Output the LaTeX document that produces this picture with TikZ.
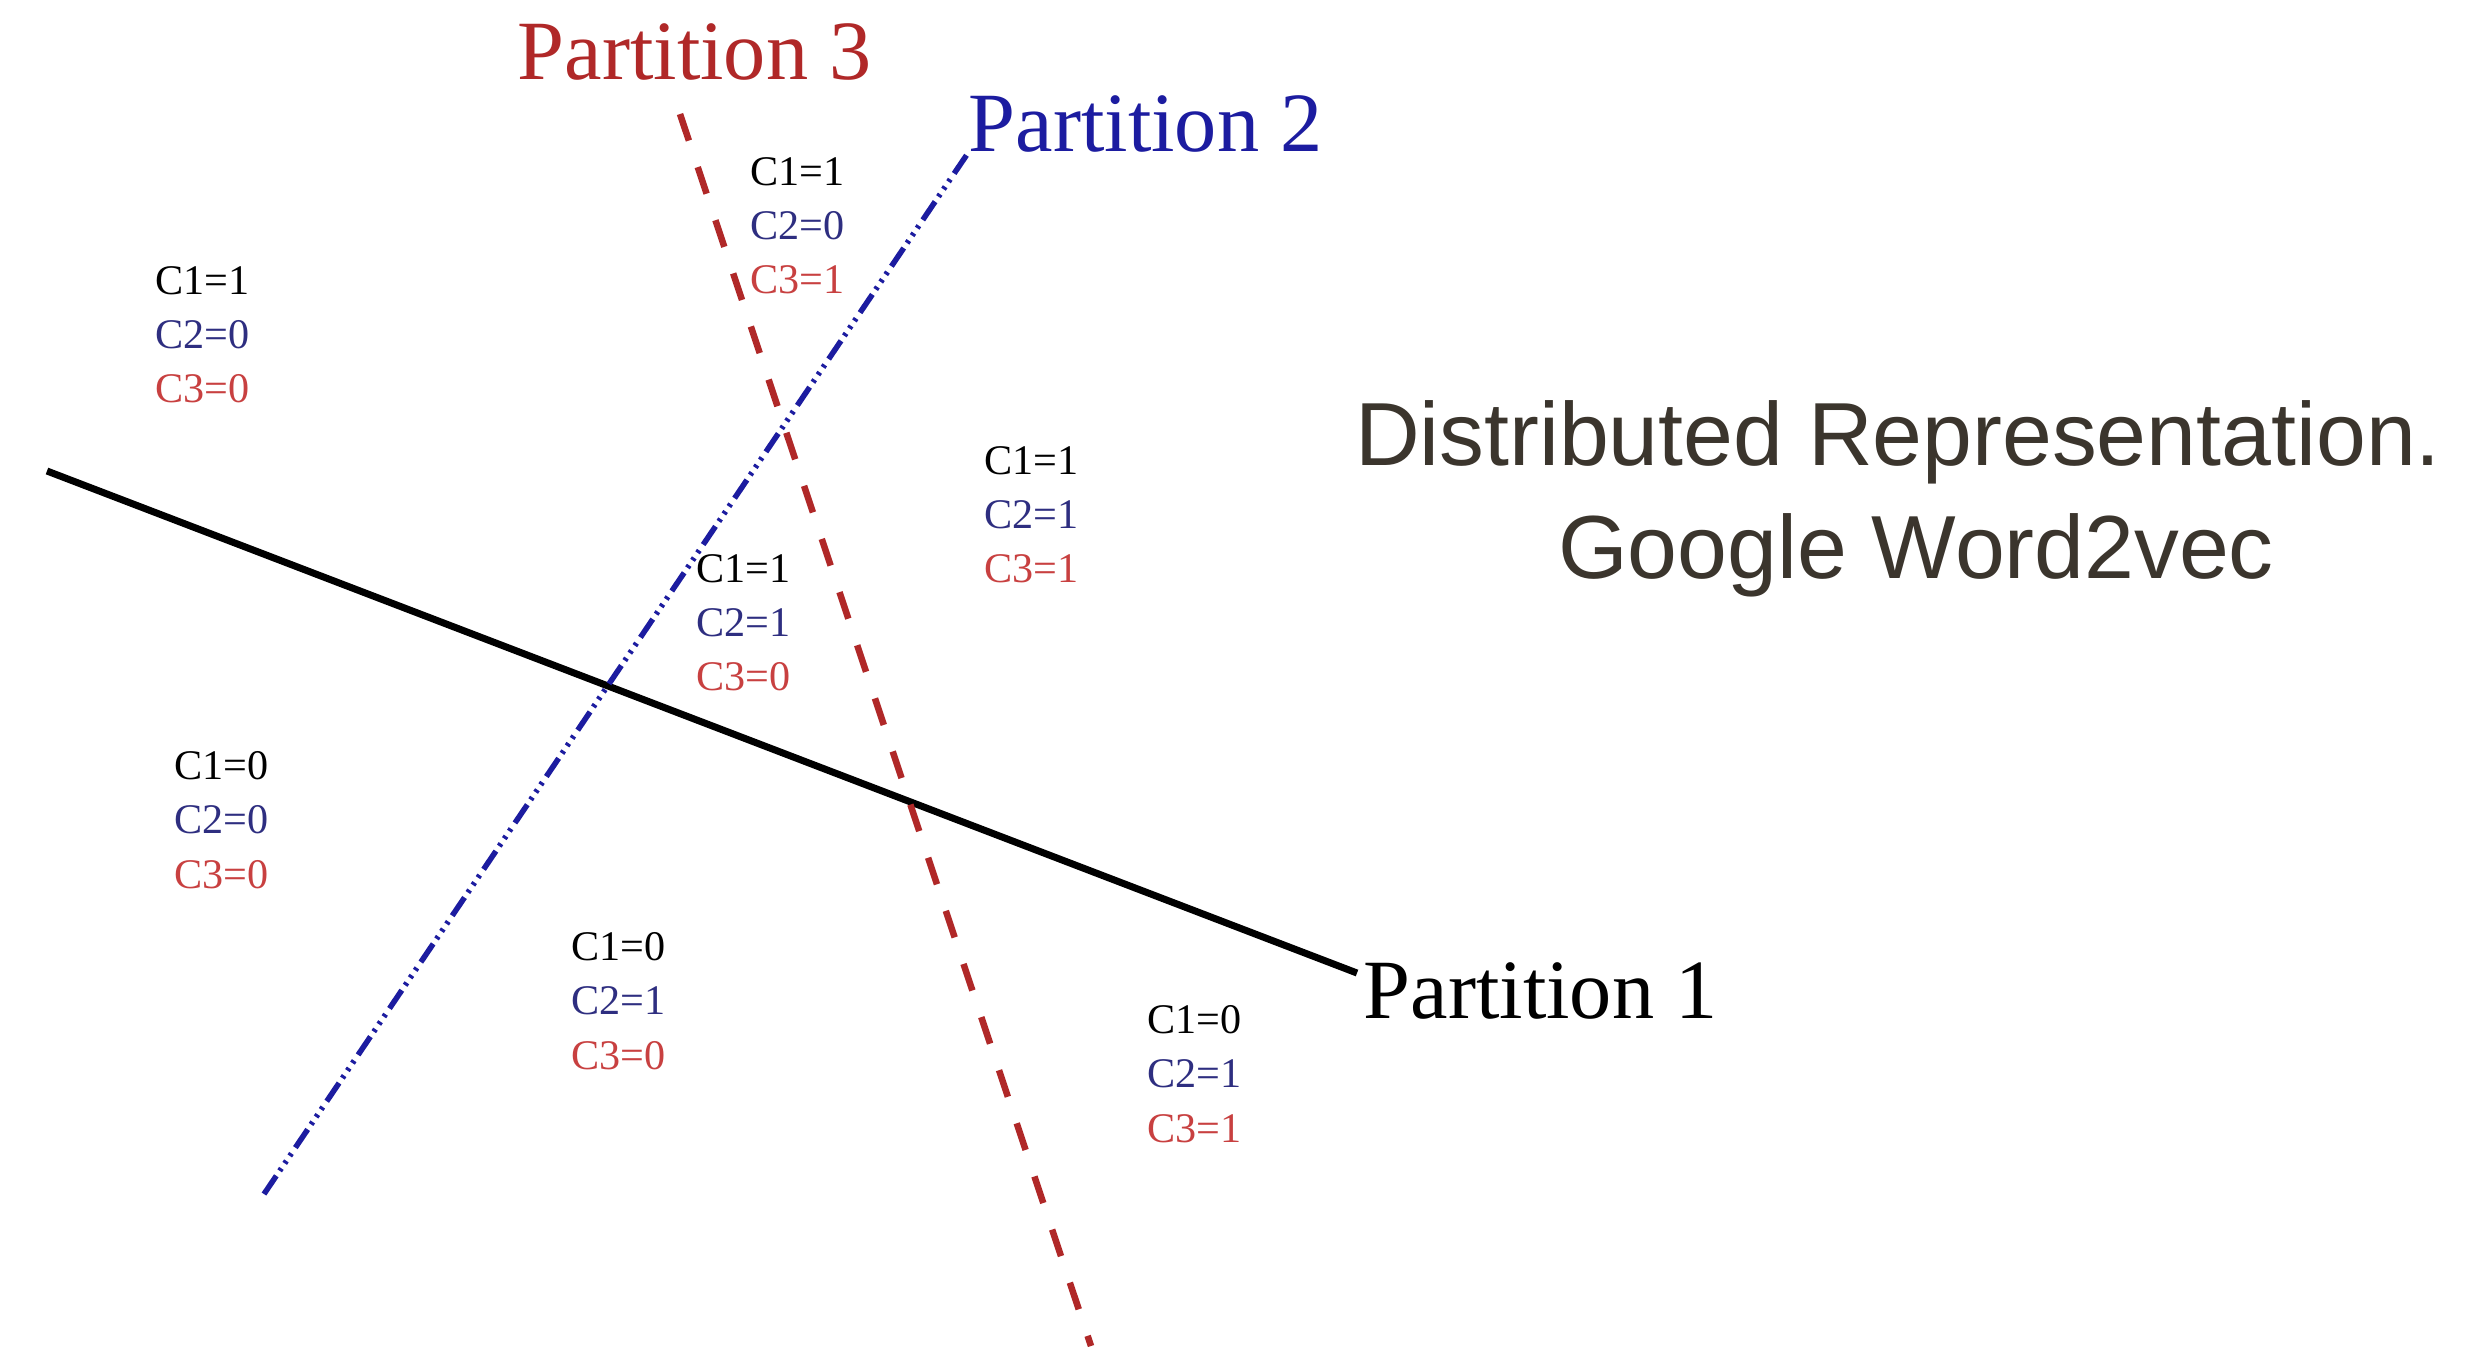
\documentclass[tikz,border=0pt]{standalone}
\usepackage{fontspec}
\setmainfont{Liberation Serif}
\newfontfamily\titlefont{Liberation Sans}
\definecolor{pred}{HTML}{B02828}
\definecolor{pblue}{HTML}{1C1CA0}
\definecolor{ltwo}{HTML}{2E2E80}
\definecolor{lthree}{HTML}{C84040}
\definecolor{ttl}{HTML}{3B352D}
\tikzset{
  px/.style={x=0.1mm,y=-0.1mm},
  lab/.style={anchor=north west,inner sep=0pt,align=left,font=\fontsize{12}{15.4}\selectfont},
  ptitle/.style={anchor=base west,inner sep=0pt,font=\fontsize{24}{28}\selectfont},
  bigt/.style={anchor=base,inner sep=0pt,text=ttl,font=\titlefont\fontsize{25.5}{30}\selectfont},
  line1/.style={draw=black,line width=0.7mm},
  line2/.style={draw=pblue,line width=0.55mm,dash pattern=on 2.2mm off 0.6mm on 0.3mm off 0.6mm on 0.3mm off 0.6mm on 0.3mm off 0.7mm},
  line3/.style={draw=pred,line width=0.65mm,dash pattern=on 2.8mm off 2.8mm}
}
\newcommand{\trip}[3]{\textcolor{black}{#1}\\\textcolor{ltwo}{#2}\\\textcolor{lthree}{#3}}
\begin{document}
\begin{tikzpicture}[px]
\useasboundingbox[fill=white] (0,0) rectangle (2480,1346);
% partition lines
\coordinate (a1) at (47,471);
\coordinate (b1) at (1357,973);
\coordinate (a2) at (264,1194);
\coordinate (b2) at (968,153);
\coordinate (a3) at (680,114);
\coordinate (b3) at (1091,1346);
\draw[line1] (a1) -- (b1);
\draw[line2] (a2) -- (b2);
\draw[line3] (a3) -- (b3);
% partition titles
\node[ptitle,text=pred] (p3) at (517,79) {Partition 3};
\node[ptitle,text=pblue] (p2) at (968,151) {Partition 2};
\node[ptitle,text=black] (p1) at (1363,1018) {Partition 1};
% region labels
\node[lab] (r1) at (155,266) {\trip{C1=1}{C2=0}{C3=0}};
\node[lab] (r2) at (750,157) {\trip{C1=1}{C2=0}{C3=1}};
\node[lab] (r3) at (984,446) {\trip{C1=1}{C2=1}{C3=1}};
\node[lab] (r4) at (696,554) {\trip{C1=1}{C2=1}{C3=0}};
\node[lab] (r5) at (174,751) {\trip{C1=0}{C2=0}{C3=0}};
\node[lab] (r6) at (571,932) {\trip{C1=0}{C2=1}{C3=0}};
\node[lab] (r7) at (1147,1005) {\trip{C1=0}{C2=1}{C3=1}};
% title
\node[bigt] (t1) at (1898,465) {Distributed Representation.};
\node[bigt] (t2) at (1916,578) {Google Word2vec};
\end{tikzpicture}
\end{document}
